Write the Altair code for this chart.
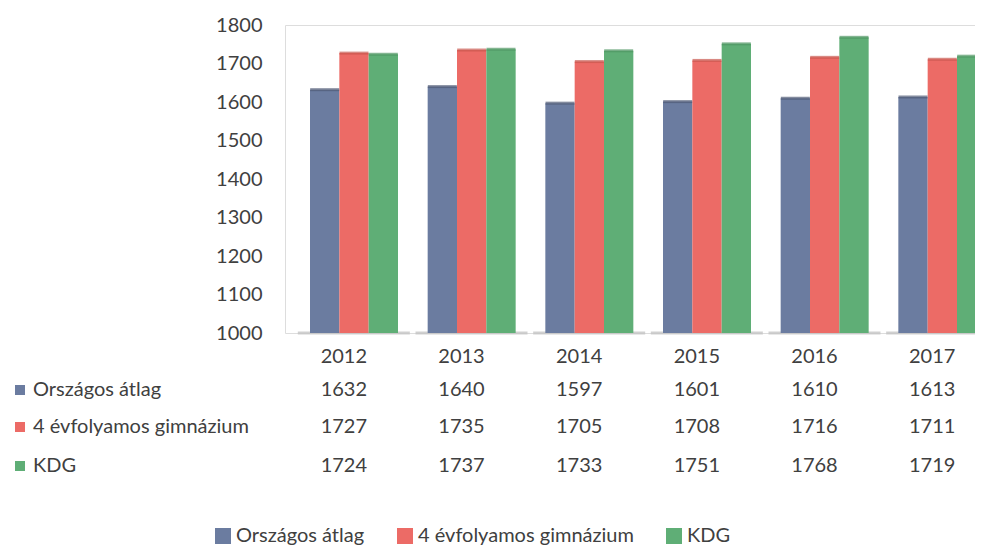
import altair as alt
import pandas as pd

years = ["2012", "2013", "2014", "2015", "2016", "2017"]
series = ["Országos átlag", "4 évfolyamos gimnázium", "KDG"]
orszagos = [1632, 1640, 1597, 1601, 1610, 1613]
gimnazium = [1727, 1735, 1705, 1708, 1716, 1711]
kdg = [1724, 1737, 1733, 1751, 1768, 1719]
colors = ["#6B7CA0", "#EC6B66", "#5FAE76"]
cap_colors = ["#4E5A75", "#C9574F", "#4E9663"]
y_ticks = [1000, 1100, 1200, 1300, 1400, 1500, 1600, 1700, 1800]

values = [orszagos, gimnazium, kdg]
rows = []
for si, s in enumerate(series):
    for yi, yr in enumerate(years):
        rows.append({"year": yr, "series": s, "value": values[si][yi]})
df = pd.DataFrame(rows)

FONT = "Lato"
TXT = "#404040"
W, H = 690, 308

xscale = alt.Scale(domain=years, range=[0, 706], paddingInner=0, paddingOuter=0)
yscale = alt.Scale(domain=[1000, 1800], nice=False, zero=False)
cscale = alt.Scale(domain=series, range=colors)
capscale = alt.Scale(domain=series, range=cap_colors)
offscale = alt.Scale(domain=series, range=[25, 113], paddingInner=0, paddingOuter=0)

X = alt.X("year:N", scale=xscale, sort=years, title=None, axis=None)
yaxis = alt.Axis(values=y_ticks, grid=False, domain=False, ticks=False, format="d",
                 labelFontSize=20, labelFont=FONT, labelColor=TXT, labelPadding=23)

base = alt.Chart(df)

floor = base.transform_filter(alt.datum.series == series[0]).transform_calculate(
    y0="996", y1="1004"
).mark_bar(color="#c4c4c4", opacity=0.8, size=112, xOffset=10).encode(
    x=X,
    y=alt.Y("y0:Q", scale=yscale, title=None, axis=yaxis),
    y2="y1:Q",
)

bars = base.mark_bar().encode(
    x=X,
    xOffset=alt.XOffset("series:N", sort=series, scale=offscale),
    y=alt.Y("value:Q", scale=yscale, title=None, axis=yaxis),
    y2=alt.Y2(datum=1000),
    color=alt.Color("series:N", scale=cscale, sort=series,
                    legend=alt.Legend(title=None, orient="none", direction="horizontal",
                                      legendX=-72, legendY=501, symbolType="square",
                                      symbolSize=256, symbolStrokeWidth=0,
                                      labelFontSize=20, labelFont=FONT, labelColor=TXT,
                                      labelLimit=400, columnPadding=30, labelOffset=3)),
)

caps = base.mark_tick(thickness=3, size=29).encode(
    x=X,
    xOffset=alt.XOffset("series:N", sort=series, scale=offscale),
    y=alt.Y("value:Q", scale=yscale, title=None, axis=yaxis),
    color=alt.Color("series:N", scale=capscale, legend=None),
)

year_labels = base.transform_filter(alt.datum.series == series[0]).mark_text(
    fontSize=20, font=FONT, color=TXT
).encode(x=X, y=alt.value(332), text="year:N")

row_y = [365, 402, 441]
layers = [floor, bars, caps, year_labels]
for si, s in enumerate(series):
    sub = base.transform_filter(alt.datum.series == s)
    layers.append(sub.mark_text(fontSize=20, font=FONT, color=TXT).encode(
        x=X,
        y=alt.value(row_y[si]),
        text="value:Q",
    ))
    lab = sub.transform_filter(alt.datum.year == years[0])
    layers.append(lab.mark_text(fontSize=20, font=FONT, color=TXT, align="left").encode(
        x=alt.value(-252),
        y=alt.value(row_y[si]),
        text="series:N",
    ))
    layers.append(lab.mark_square(size=100, opacity=1).encode(
        x=alt.value(-265),
        y=alt.value(row_y[si]),
        color=alt.value(colors[si]),
    ))

chart = alt.layer(*layers).resolve_scale(color="independent").properties(
    width=W, height=H,
    autosize=alt.AutoSizeParams(type="none"),
    padding={"left": 277, "top": 17, "right": 0, "bottom": 217},
).configure_view(stroke=None).configure(background="white")

chart.save("out.html", embed_options={"renderer": "svg", "actions": False})
